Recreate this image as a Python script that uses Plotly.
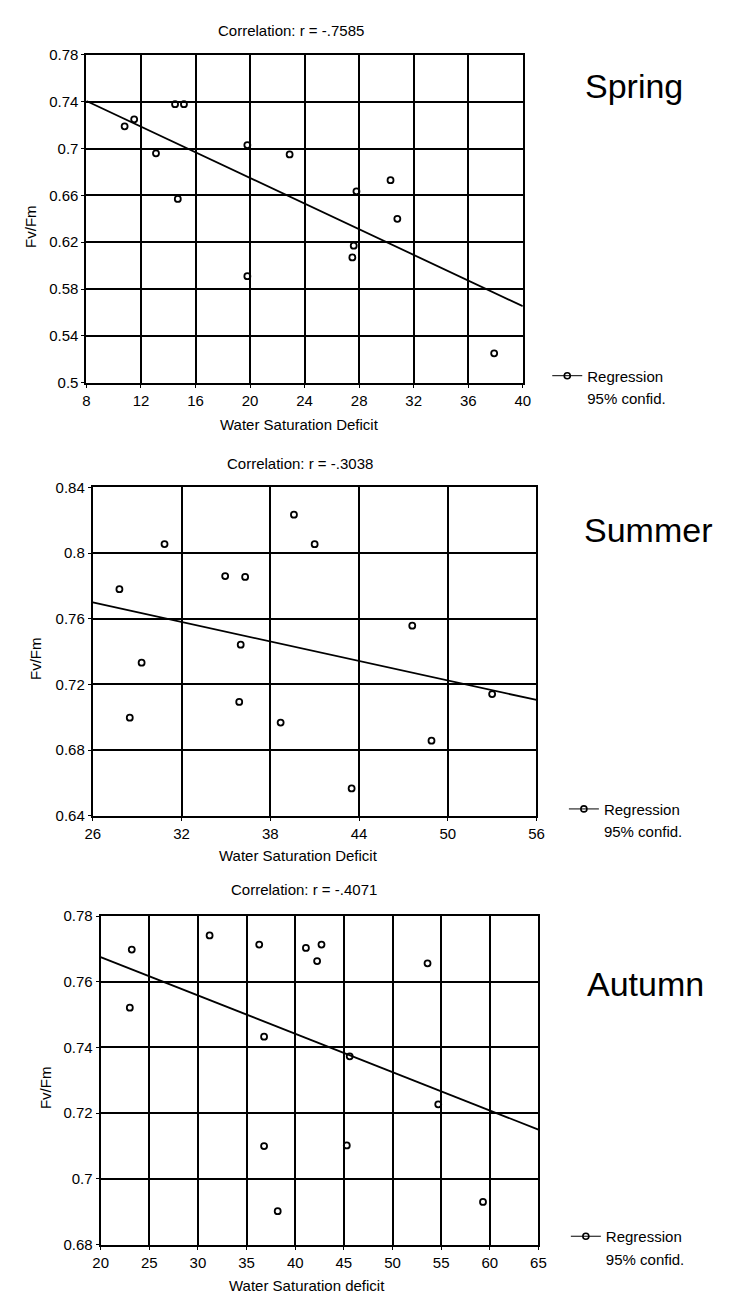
import plotly.graph_objects as go

W, H = 740, 1294

# ---------------- data ----------------
spring_x = [10.8, 11.5, 14.5, 15.15, 13.1, 19.8, 22.9, 30.3, 27.8, 14.7, 27.6, 27.5, 19.8, 30.8, 37.9]
spring_y = [0.719, 0.725, 0.738, 0.738, 0.696, 0.703, 0.695, 0.673, 0.6635, 0.657, 0.617, 0.607, 0.591, 0.640, 0.525]
spring_fit_x = [8, 40]
spring_fit_y = [0.7407, 0.5653]
spring_xticks = [8, 12, 16, 20, 24, 28, 32, 36, 40]
spring_yticks = [0.5, 0.54, 0.58, 0.62, 0.66, 0.70, 0.74, 0.78]
spring_ylabels = ["0.5", "0.54", "0.58", "0.62", "0.66", "0.7", "0.74", "0.78"]

summer_x = [30.85, 39.6, 41.0, 34.95, 36.3, 27.8, 47.6, 29.3, 36.0, 28.5, 35.9, 38.7, 43.5, 53.0, 48.9]
summer_y = [0.8055, 0.8234, 0.8054, 0.786, 0.7855, 0.778, 0.7558, 0.7332, 0.7442, 0.6997, 0.7093, 0.6967, 0.6566, 0.7141, 0.6857]
summer_fit_x = [26, 56]
summer_fit_y = [0.7699, 0.7105]
summer_xticks = [26, 32, 38, 44, 50, 56]
summer_yticks = [0.64, 0.68, 0.72, 0.76, 0.80, 0.84]
summer_ylabels = ["0.64", "0.68", "0.72", "0.76", "0.8", "0.84"]

autumn_x = [23.2, 23.0, 31.2, 36.3, 41.1, 42.7, 42.25, 53.6, 36.8, 45.6, 36.8, 45.3, 38.2, 54.7, 59.3]
autumn_y = [0.7698, 0.7521, 0.7741, 0.7713, 0.7703, 0.7713, 0.7663, 0.7656, 0.7433, 0.7373, 0.710, 0.7102, 0.6902, 0.7227, 0.693]
autumn_fit_x = [20, 65]
autumn_fit_y = [0.7675, 0.7150]
autumn_xticks = [20, 25, 30, 35, 40, 45, 50, 55, 60, 65]
autumn_yticks = [0.68, 0.70, 0.72, 0.74, 0.76, 0.78]
autumn_ylabels = ["0.68", "0.7", "0.72", "0.74", "0.76", "0.78"]

seasons = ["Spring", "Summer", "Autumn"]
titles = ["Correlation: r = -.7585", "Correlation: r = -.3038", "Correlation: r = -.4071"]
xtitles = ["Water Saturation Deficit", "Water Saturation Deficit", "Water Saturation deficit"]
ytitle = "Fv/Fm"
legend_names = ["Regression", "95% confid."]

# ---------------- layout geometry (pixels) ----------------
FONT = "Liberation Sans, Arial, sans-serif"


def pxx(x):
    return x / W


def pyy(y):
    return 1 - y / H


panels = [
    dict(x=spring_x, y=spring_y, fx=spring_fit_x, fy=spring_fit_y,
         xt=spring_xticks, yt=spring_yticks, yl=spring_ylabels,
         box=(72, 518, 38.5, 370.5), title_xy=(281, 14), xt_xy=(290, 413),
         yt_xy=(15, 212), season_xy=(580, 70), legend_xy=(543, 347)),
    dict(x=summer_x, y=summer_y, fx=summer_fit_x, fy=summer_fit_y,
         xt=summer_xticks, yt=summer_yticks, yl=summer_ylabels,
         box=(78.5, 532, 476.7, 809.3), title_xy=(290, 452), xt_xy=(289, 850),
         yt_xy=(20, 650), season_xy=(578, 520), legend_xy=(560, 786)),
    dict(x=autumn_x, y=autumn_y, fx=autumn_fit_x, fy=autumn_fit_y,
         xt=autumn_xticks, yt=autumn_yticks, yl=autumn_ylabels,
         box=(86.5, 534, 911, 1244), title_xy=(294, 884), xt_xy=(297, 1285),
         yt_xy=(30, 1085), season_xy=(582, 980), legend_xy=(562, 1219)),
]

fig = go.Figure()
annotations = []
layout = {}

for i, p in enumerate(panels):
    n = "" if i == 0 else str(i + 1)
    xa, ya = "x" + n, "y" + n
    lg = "legend" + n
    x0, x1, y0, y1 = p["box"]
    fig.add_trace(go.Scatter(
        x=p["x"], y=p["y"], mode="markers", xaxis=xa, yaxis=ya, showlegend=False,
        marker=dict(symbol="circle-open", size=6, color="black", line=dict(width=1.8)),
        cliponaxis=False))
    fig.add_trace(go.Scatter(
        x=p["fx"], y=p["fy"], mode="lines", xaxis=xa, yaxis=ya, showlegend=False,
        line=dict(color="black", width=1.8)))
    # legend entries
    fig.add_trace(go.Scatter(
        x=[None], y=[None], mode="lines+markers", xaxis=xa, yaxis=ya, name=legend_names[0],
        legend=lg, marker=dict(symbol="circle-open", size=6, color="black", line=dict(width=1.6)),
        line=dict(color="black", width=1)))
    fig.add_trace(go.Scatter(
        x=[None], y=[None], mode="lines", xaxis=xa, yaxis=ya, name=legend_names[1],
        legend=lg, line=dict(color="rgba(0,0,0,0)", width=1)))

    axis_common = dict(
        showline=True, mirror=True, linecolor="black", linewidth=2,
        showgrid=True, gridcolor="black", gridwidth=1.6, zeroline=False,
        ticks="outside", ticklen=3, tickcolor="black",
        tickfont=dict(family=FONT, size=15, color="black"),
    )
    layout["xaxis" + n] = dict(
        axis_common, domain=[pxx(x0), pxx(x1)], anchor=ya,
        range=[p["xt"][0], p["xt"][-1]], tickvals=p["xt"],
        ticktext=[str(v) for v in p["xt"]])
    layout["yaxis" + n] = dict(
        axis_common, domain=[pyy(y1), pyy(y0)], anchor=xa,
        range=[p["yt"][0], p["yt"][-1]], tickvals=p["yt"], ticktext=p["yl"])
    lx, ly = p["legend_xy"]
    layout[lg] = dict(
        x=pxx(lx), y=pyy(ly), xanchor="left", yanchor="top",
        bgcolor="rgba(0,0,0,0)", borderwidth=0, itemwidth=30, tracegroupgap=0,
        font=dict(family=FONT, size=15, color="black"))

    tx, ty = p["title_xy"]
    annotations.append(dict(text=titles[i], x=pxx(tx), y=pyy(ty), xref="paper", yref="paper",
                            showarrow=False, xanchor="center", yanchor="middle",
                            font=dict(family=FONT, size=15, color="black")))
    tx, ty = p["xt_xy"]
    annotations.append(dict(text=xtitles[i], x=pxx(tx), y=pyy(ty), xref="paper", yref="paper",
                            showarrow=False, xanchor="center", yanchor="middle",
                            font=dict(family=FONT, size=15, color="black")))
    tx, ty = p["yt_xy"]
    annotations.append(dict(text=ytitle, x=pxx(tx), y=pyy(ty), xref="paper", yref="paper",
                            showarrow=False, xanchor="center", yanchor="middle", textangle=-90,
                            font=dict(family=FONT, size=15, color="black")))
    tx, ty = p["season_xy"]
    annotations.append(dict(text=seasons[i], x=pxx(tx), y=pyy(ty), xref="paper", yref="paper",
                            showarrow=False, xanchor="left", yanchor="middle",
                            font=dict(family=FONT, size=34, color="black")))

fig.update_layout(
    width=W, height=H, margin=dict(l=0, r=0, t=0, b=0),
    paper_bgcolor="white", plot_bgcolor="white",
    annotations=annotations, **layout)

fig.write_html("out.html")
